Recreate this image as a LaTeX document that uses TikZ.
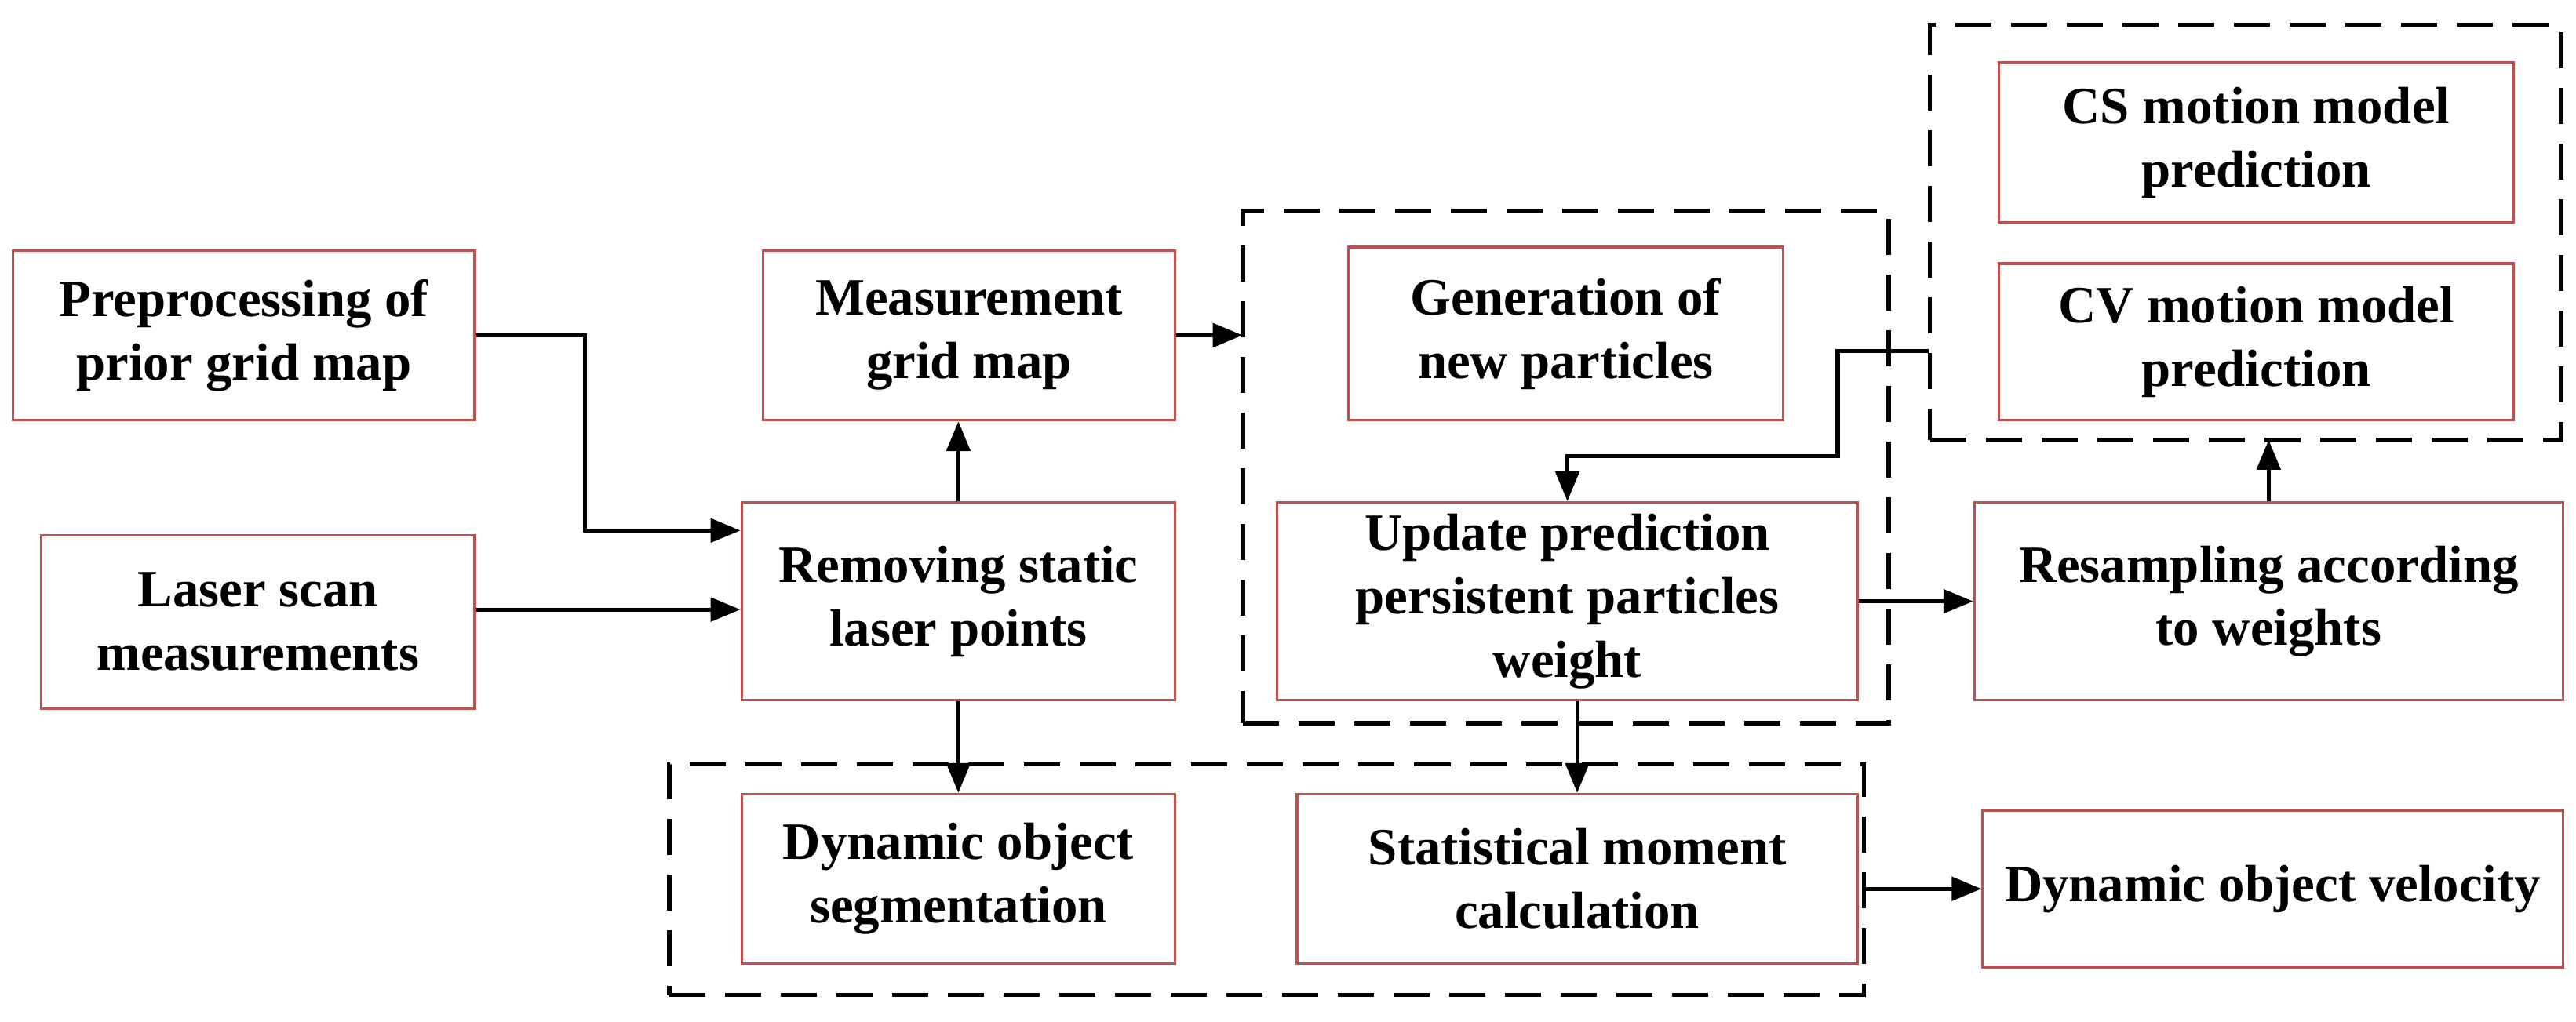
\documentclass[tikz,border=0pt]{standalone}
\usepackage{fontspec}
\setmainfont{Liberation Serif}
\usetikzlibrary{arrows.meta}
\definecolor{rb}{RGB}{192,80,77}
\begin{document}
\begin{tikzpicture}[x=0.021cm,y=-0.021cm,
  sz/.style 2 args={minimum width={#1*0.021cm},minimum height={#2*0.021cm}},
  box/.style={draw=rb,line width=0.9pt,rectangle,align=center,inner sep=2pt,
    font=\fontsize{19}{23}\selectfont\bfseries},
  dbox/.style={draw=black,line width=1.6pt,dash pattern=on 0.46cm off 0.25cm,rectangle,inner sep=0pt,outer sep=0pt},
  arr/.style={line width=1.5pt,-{Triangle[length=0.38cm,width=0.3cm]}}]
\useasboundingbox (0,0) rectangle (1563,620);
\node[dbox,sz={725}{140}] (bot) at (768.5,534) {};
\node[dbox,sz={392}{311}] (mid) at (950,283.5) {};
\node[dbox,sz={383}{252}] (right) at (1362.5,141) {};
\node[box,sz={280}{103}] (pre) at (148,203.5) {Preprocessing of\\prior grid map};
\node[box,sz={263}{105}] (laser) at (156.5,377.5) {Laser scan\\measurements};
\node[box,sz={250}{103}] (meas) at (588,203.5) {Measurement\\grid map};
\node[box,sz={263}{120}] (remove) at (581.5,365) {Removing static\\laser points};
\node[box,sz={263}{103}] (seg) at (581.5,533.5) {Dynamic object\\segmentation};
\node[box,sz={340}{103}] (stat) at (957,533.5) {Statistical moment\\calculation};
\node[box,sz={264}{105}] (gen) at (950,202.5) {Generation of\\new particles};
\node[box,sz={352}{120}] (upd) at (951,365) {Update prediction\\persistent particles\\weight};
\node[box,sz={312}{97}] (cs) at (1369,86.5) {CS motion model\\prediction};
\node[box,sz={312}{95}] (cv) at (1369,207.5) {CV motion model\\prediction};
\node[box,sz={357}{120}] (res) at (1376.5,365) {Resampling according\\to weights};
\node[box,sz={352}{95}] (vel) at (1379,539.5) {Dynamic object velocity};
\coordinate (j1) at (355,322);
\coordinate (k0) at (1170,213);
\coordinate (k1) at (1115,277);
\coordinate (l0) at (0,370);
\draw[arr] (pre.east) -| (j1) -- (j1 -| remove.west);
\draw[arr] (laser.east |- l0) -- (remove.west |- l0);
\draw[arr] (remove.north) -- (remove.north |- meas.south);
\draw[arr] (meas.east) -- (meas.east -| mid.west);
\draw[arr] (remove.south) -- (remove.south |- seg.north);
\draw[arr] (upd.south -| stat.north) -- (stat.north);
\draw[arr] (upd.east) -- (res.west);
\draw[arr] (res.north) -- (res.north |- right.south);
\draw[arr] (k0) -| (k1) -| (upd.north);
\draw[arr] (vel.west -| bot.east) -- (vel.west);
\end{tikzpicture}
\end{document}
